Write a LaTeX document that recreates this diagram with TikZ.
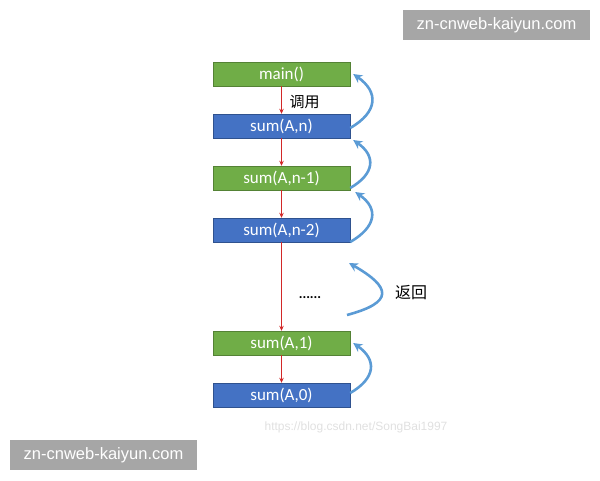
\documentclass[tikz,border=0pt]{standalone}
\usepackage{fontspec}
\setmainfont{Carlito}
\newfontfamily\cjk{Noto Sans CJK SC}
\newfontfamily\wmfont{Liberation Sans}
\usetikzlibrary{arrows.meta}
\definecolor{callgreen}{RGB}{112,173,71}
\definecolor{callblue}{RGB}{68,114,196}
\definecolor{greenedge}{RGB}{84,130,53}
\definecolor{blueedge}{RGB}{47,82,143}
\definecolor{backblue}{RGB}{91,155,213}
\definecolor{callred}{RGB}{210,40,40}
\definecolor{wmgray}{RGB}{166,166,166}
\begin{document}
\begin{tikzpicture}[x=1pt,y=1pt,
  frame/.style={rectangle, minimum width=137pt, minimum height=24pt, inner sep=0pt, text=white, font=\fontsize{17}{19}\selectfont},
  gframe/.style={frame, fill=callgreen, draw=greenedge},
  bframe/.style={frame, fill=callblue, draw=blueedge},
  call/.style={callred, line width=0.8pt, -{Stealth[length=5pt,width=4.5pt]}},
  back/.style={backblue, line width=2.6pt, -{Stealth[length=9pt,width=9pt]}},
  wmbox/.style={rectangle, fill=wmgray, text=white, minimum width=187pt, minimum height=30pt, inner sep=0pt, font=\wmfont\fontsize{16.5}{18}\selectfont}]
  \useasboundingbox (0,0) rectangle (600,480);
  \node[gframe] (M) at (281.5,406) {main()};
  \node[bframe] (S) at (281.5,354) {sum(A,n)};
  \node[gframe] (S1) at (281.5,302) {sum(A,n-1)};
  \node[bframe] (S2) at (281.5,250) {sum(A,n-2)};
  \node[gframe] (T1) at (281.5,137) {sum(A,1)};
  \node[bframe] (T0) at (281.5,85) {sum(A,0)};
  \node[anchor=west, font=\cjk\fontsize{15}{18}\selectfont] (call) at (286,378) {调用};
  \node[font=\bfseries\fontsize{14}{16}\selectfont] (dots) at (310,182) {......};
  \node[font=\cjk\fontsize{16}{18}\selectfont] (ret) at (411,187) {返回};
  \draw[call] (M) -- (S);
  \draw[call] (S) -- (S1);
  \draw[call] (S1) -- (S2);
  \draw[call] (S2) -- (T1);
  \draw[call] (T1) -- (T0);
  \coordinate (R0) at (347,165);
  \coordinate (R1) at (349,217);
  \draw[back] ([yshift=-2]S.east) to[out=30,in=-35,looseness=1.5] ([xshift=3]M.east);
  \draw[back] ([yshift=-10]S1.east) to[out=30,in=-35,looseness=1.5] ([xshift=3,yshift=-14]S.east);
  \draw[back] ([yshift=-12]S2.east) to[out=30,in=-35,looseness=1.5] ([xshift=5,yshift=-14]S1.east);
  \draw[back] (R0) to[out=15,in=-30,looseness=2.4] (R1);
  \draw[back] ([yshift=2]T0.east) to[out=30,in=-35,looseness=1.5] ([xshift=3]T1.east);
  \node[text=black!12, font=\wmfont\fontsize{12}{14}\selectfont] (csdn) at (356,53) {https://blog.csdn.net/SongBai1997};
  \node[wmbox] (wmtop) at (496.5,455) {zn-cnweb-kaiyun.com};
  \node[wmbox] (wmbot) at (103.5,25) {zn-cnweb-kaiyun.com};
\end{tikzpicture}
\end{document}
